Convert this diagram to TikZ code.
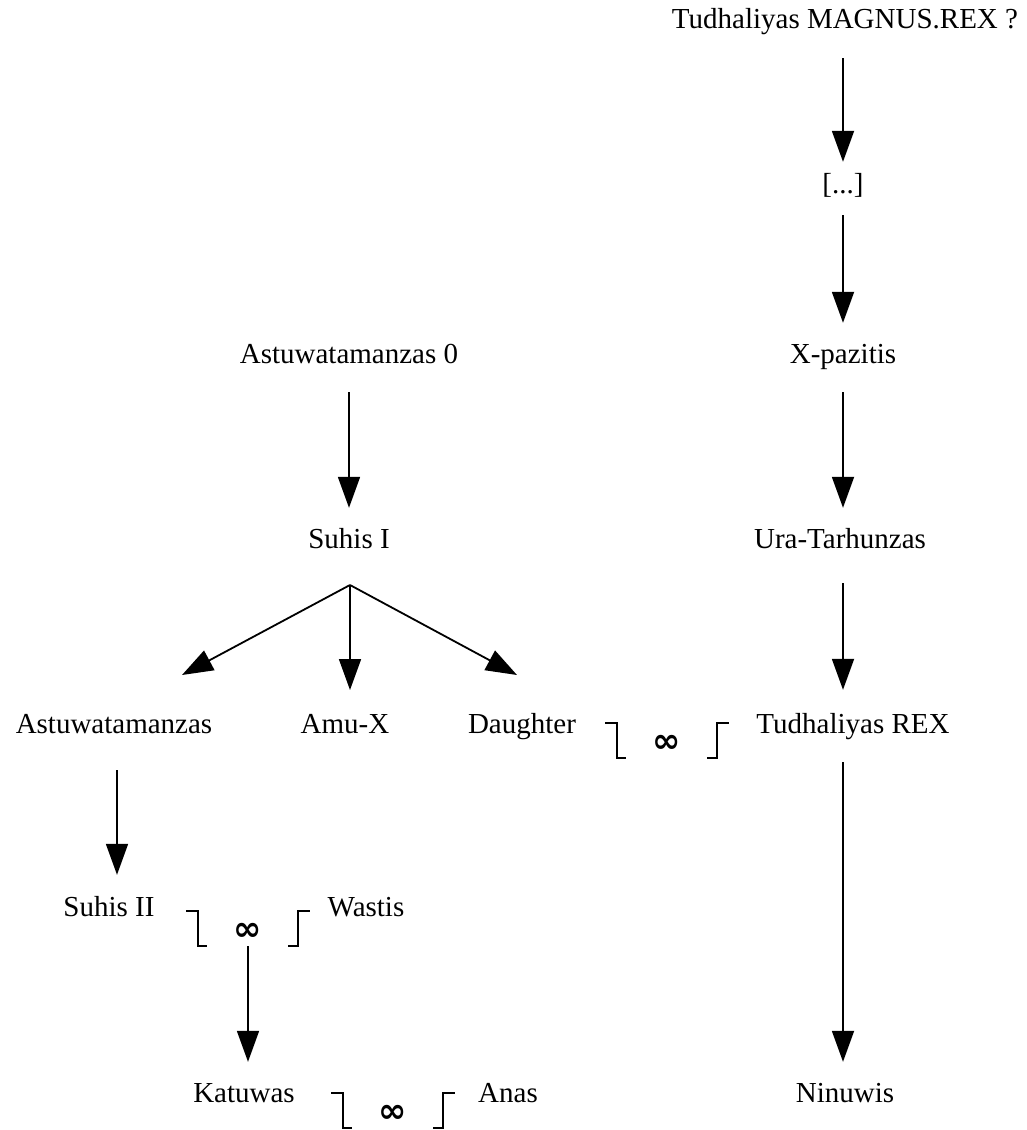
\documentclass[tikz,border=0pt]{standalone}
\usepackage{fontspec}
\setmainfont{Liberation Serif}
\newfontfamily\djv{DejaVu Sans}
\usetikzlibrary{arrows.meta}
\tikzset{
  lbl/.style={inner sep=0pt, anchor=base, text height=20pt, text depth=6pt, font=\fontsize{29}{29}\selectfont},
  inf/.style={inner sep=0pt, text height=7pt, text depth=0pt, anchor=base, font=\djv\bfseries\fontsize{34}{34}\selectfont},
  arr/.style={line width=1.8pt, -{Triangle[width=22pt,length=31pt]}},
  brk/.style={line width=1.8pt, line cap=rect},
}
\begin{document}
\begin{tikzpicture}[x=1pt,y=-1pt]
\useasboundingbox (0,0) rectangle (1027,1130);
% right column
\node[lbl] (tmr) at (845,28) {Tudhaliyas MAGNUS.REX ?};
\node[lbl] (dots) at (843,193) {[...]};
\node[lbl] (xpa) at (843,363) {X-pazitis};
\node[lbl] (ura) at (840,548) {Ura-Tarhunzas};
\node[lbl] (trex) at (853,733) {Tudhaliyas REX};
\node[lbl] (nin) at (845,1102) {Ninuwis};
% left
\node[lbl] (ast0) at (349,363) {Astuwatamanzas 0};
\node[lbl] (suh1) at (349,548) {Suhis I};
\node[lbl] (ast) at (114,733) {Astuwatamanzas};
\node[lbl] (amu) at (345,733) {Amu-X};
\node[lbl] (dau) at (522,733) {Daughter};
\node[lbl] (suh2) at (109,916) {Suhis II};
\node[lbl] (was) at (366,916) {Wastis};
\node[lbl] (kat) at (244,1102) {Katuwas};
\node[lbl] (ana) at (508,1102) {Anas};
% marriages (base at glyph bottom)
\node[inf] (m1) at (667,752) {∞};
\node[inf] (m2) at (248,940) {∞};
\node[inf] (m3) at (393,1122) {∞};
\foreach \m in {m1,m2,m3}{
  \draw[brk] ([shift={(-61,-29)}]\m.base) -- ++(11,0) -- ++(0,35) -- ++(8,0);
  \draw[brk] ([shift={(41,6)}]\m.base) -- ++(9,0) -- ++(0,-35) -- ++(11,0);
}
% arrows right column
\draw[arr, shorten <=24pt, shorten >=11pt] (dots.south |- tmr.south) -- (dots.north);
\draw[arr, shorten <=16pt, shorten >=20pt] (dots.south) -- (dots.south |- xpa.north);
\draw[arr, shorten <=23pt, shorten >=20pt] (xpa.south) -- (xpa.south |- ura.north);
\draw[arr, shorten <=29pt, shorten >=23pt] (xpa.south |- ura.south) -- (xpa.south |- trex.north);
\draw[arr, shorten <=23pt, shorten >=20pt] (xpa.south |- trex.south) -- (xpa.south |- nin.north);
% left
\draw[arr, shorten <=23pt, shorten >=20pt] (ast0.south) -- (ast0.south |- suh1.north);
\coordinate (fan) at (350,585);
\coordinate (tl) at (182,675);
\coordinate (tc) at (350,690);
\coordinate (tr) at (517,675);
\draw[arr] (fan) -- (tl);
\draw[arr] (fan) -- (tc);
\draw[arr] (fan) -- (tr);
\draw[arr, shorten <=31pt, shorten >=21pt] ([xshift=3pt]ast.south) -- ([xshift=3pt]ast.south |- suh2.north);
\draw[arr, shorten <=6pt, shorten >=20pt] (m2.south) -- (m2.south |- kat.north);
\end{tikzpicture}
\end{document}
